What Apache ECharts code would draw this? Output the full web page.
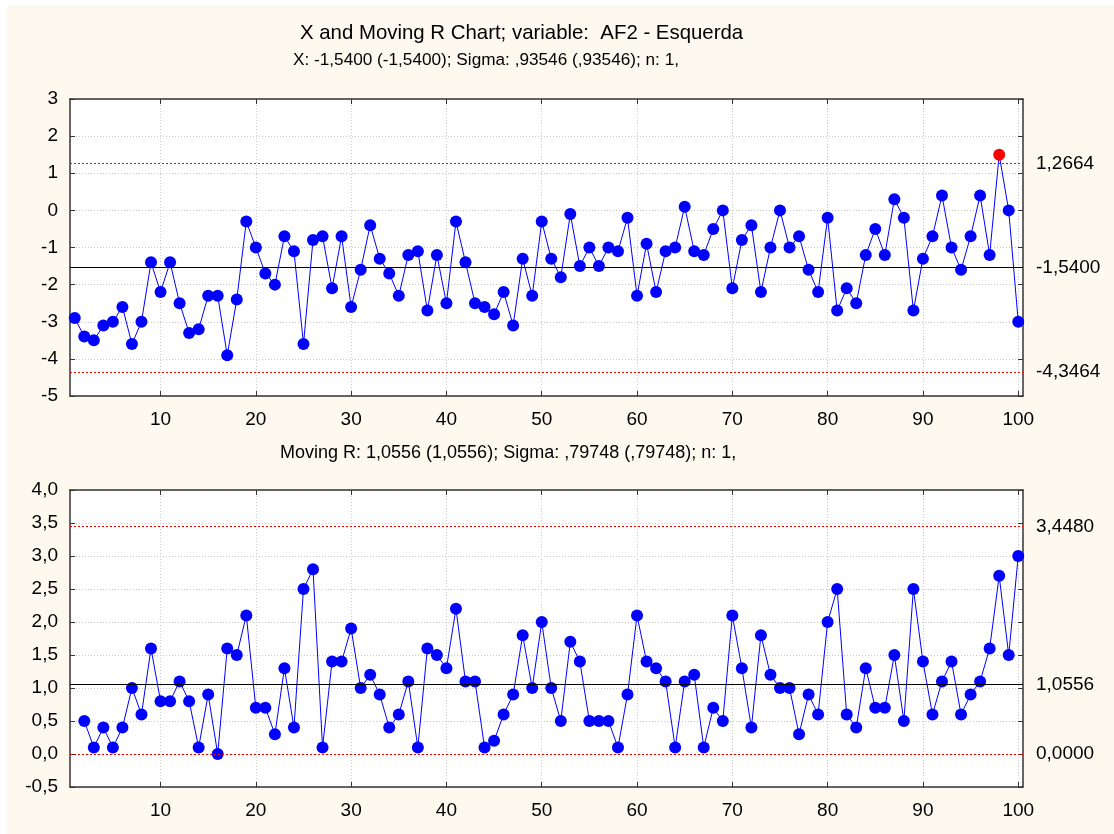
<!DOCTYPE html>
<html>
<head>
<meta charset="utf-8">
<script src="https://cdn.jsdelivr.net/npm/echarts@6/dist/echarts.min.js"></script>
<style>
  html, body { margin: 0; padding: 0; background: #fff; }
  #chart { width: 1114px; height: 834px; }
</style>
</head>
<body>
<div id="chart"></div>
<script>
// individual values, samples 1..100
const xValues = [
  -2.9, -3.4, -3.5, -3.1, -3.0, -2.6, -3.6, -3.0, -1.4, -2.2,
  -1.4, -2.5, -3.3, -3.2, -2.3, -2.3, -3.9, -2.4, -0.3, -1.0,
  -1.7, -2.0, -0.7, -1.1, -3.6, -0.8, -0.7, -2.1, -0.7, -2.6,
  -1.6, -0.4, -1.3, -1.7, -2.3, -1.2, -1.1, -2.7, -1.2, -2.5,
  -0.3, -1.4, -2.5, -2.6, -2.8, -2.2, -3.1, -1.3, -2.3, -0.3,
  -1.3, -1.8, -0.1, -1.5, -1.0, -1.5, -1.0, -1.1, -0.2, -2.3,
  -0.9, -2.2, -1.1, -1.0, 0.1, -1.1, -1.2, -0.5, 0.0, -2.1,
  -0.8, -0.4, -2.2, -1.0, 0.0, -1.0, -0.7, -1.6, -2.2, -0.2,
  -2.7, -2.1, -2.5, -1.2, -0.5, -1.2, 0.3, -0.2, -2.7, -1.3,
  -0.7, 0.4, -1.0, -1.6, -0.7, 0.4, -1.2, 1.5, 0.0, -3.0
]

// moving ranges, samples 2..100
const mrValues = [
  0.5, 0.1, 0.4, 0.1, 0.4, 1.0, 0.6, 1.6, 0.8,
  0.8, 1.1, 0.8, 0.1, 0.9, 0.0, 1.6, 1.5, 2.1, 0.7,
  0.7, 0.3, 1.3, 0.4, 2.5, 2.8, 0.1, 1.4, 1.4, 1.9,
  1.0, 1.2, 0.9, 0.4, 0.6, 1.1, 0.1, 1.6, 1.5, 1.3,
  2.2, 1.1, 1.1, 0.1, 0.2, 0.6, 0.9, 1.8, 1.0, 2.0,
  1.0, 0.5, 1.7, 1.4, 0.5, 0.5, 0.5, 0.1, 0.9, 2.1,
  1.4, 1.3, 1.1, 0.1, 1.1, 1.2, 0.1, 0.7, 0.5, 2.1,
  1.3, 0.4, 1.8, 1.2, 1.0, 1.0, 0.3, 0.9, 0.6, 2.0,
  2.5, 0.6, 0.4, 1.3, 0.7, 0.7, 1.5, 0.5, 2.5, 1.4,
  0.6, 1.1, 1.4, 0.6, 0.9, 1.1, 1.6, 2.7, 1.5, 3.0
]

const xSamples = xValues.map((_, i) => i + 1)
const mrSamples = mrValues.map((_, i) => i + 2)
const sampleTicks = [10, 20, 30, 40, 50, 60, 70, 80, 90, 100]
const outOfControl = [98]

const xLimits = [1.2664, -1.54, -4.3464]   // UCL, CL, LCL
const mrLimits = [3.448, 1.0556, 0]

const FONT = '"Liberation Sans", Arial, sans-serif'
const BLUE = '#0000ff'
const comma = (v, d) => v.toFixed(d).replace('.', ',')

function limitLines(limits) {
  return {
    silent: true,
    symbol: ['none', 'none'],
    animation: false,
    label: { show: false },
    emphasis: { disabled: true },
    data: [
      { yAxis: limits[0], lineStyle: { color: '#ff0000', type: [2, 2], width: 1 } },
      { yAxis: limits[1], lineStyle: { color: '#000', type: 'solid', width: 1 } },
      { yAxis: limits[2], lineStyle: { color: '#ff0000', type: [2, 2], width: 1 } },
    ],
  }
}

function sampleAxis(gridIndex) {
  return {
    type: 'value',
    gridIndex,
    min: 0.5,
    max: 100.5,
    axisLine: { onZero: false, lineStyle: { color: '#333', width: 1.5 } },
    axisTick: { inside: true, length: 5, customValues: sampleTicks, lineStyle: { color: '#333' } },
    axisLabel: { customValues: sampleTicks, color: '#000', fontSize: 19, fontFamily: FONT, margin: 14 },
    splitLine: { show: true, lineStyle: { color: '#c8c8c8', type: [1, 2] } },
  }
}

function topAxis(gridIndex) {
  return {
    type: 'value',
    gridIndex,
    position: 'top',
    min: 0.5,
    max: 100.5,
    axisLine: { onZero: false, lineStyle: { color: '#333', width: 1.5 } },
    axisTick: { inside: true, length: 5, customValues: sampleTicks, lineStyle: { color: '#333' } },
    axisLabel: { show: false },
    splitLine: { show: false },
  }
}

function leftAxis(gridIndex, min, max, interval, digits) {
  return {
    type: 'value',
    gridIndex,
    min,
    max,
    interval,
    axisLine: { show: true, onZero: false, lineStyle: { color: '#333', width: 1.5 } },
    axisTick: { show: true, inside: true, length: 5, lineStyle: { color: '#333' } },
    axisLabel: { color: '#000', fontSize: 19, fontFamily: FONT, margin: 12, formatter: (v) => comma(v, digits) },
    splitLine: { show: true, lineStyle: { color: '#c8c8c8', type: [1, 2] } },
  }
}

function rightAxis(gridIndex, min, max, interval, limits) {
  return {
    type: 'value',
    gridIndex,
    position: 'right',
    min,
    max,
    interval,
    axisLine: { show: true, onZero: false, lineStyle: { color: '#333', width: 1.5 } },
    axisTick: { show: true, inside: true, length: 5, lineStyle: { color: '#333' } },
    axisLabel: { customValues: limits, color: '#000', fontSize: 19, fontFamily: FONT, margin: 13, formatter: (v) => comma(v, 4) },
    splitLine: { show: false },
  }
}

const chart = echarts.init(document.getElementById('chart'))

chart.setOption({
  animation: false,
  backgroundColor: '#fff',
  graphic: [{
    type: 'rect', left: 7, top: 5, z: -100, silent: true,
    shape: { width: 1107, height: 829 },
    style: { fill: '#fdf9ef' },
  }],
  title: [
    {
      text: 'X and Moving R Chart; variable:  AF2 - Esquerda',
      left: 300, top: 23, padding: 0,
      textStyle: { fontSize: 20.4, fontWeight: 'normal', color: '#000', fontFamily: FONT },
    },
    {
      text: 'X: -1,5400 (-1,5400); Sigma: ,93546 (,93546); n: 1,',
      left: 293, top: 52, padding: 0,
      textStyle: { fontSize: 17.2, fontWeight: 'normal', color: '#000', fontFamily: FONT },
    },
    {
      text: 'Moving R: 1,0556 (1,0556); Sigma: ,79748 (,79748); n: 1,',
      left: 280, top: 444, padding: 0,
      textStyle: { fontSize: 18, fontWeight: 'normal', color: '#000', fontFamily: FONT },
    },
  ],
  grid: [
    { left: 70, top: 99, width: 953, height: 297, show: true, backgroundColor: '#fff', borderWidth: 0 },
    { left: 70, top: 490, width: 953, height: 297, show: true, backgroundColor: '#fff', borderWidth: 0 },
  ],
  xAxis: [sampleAxis(0), topAxis(0), sampleAxis(1), topAxis(1)],
  yAxis: [
    leftAxis(0, -5, 3, 1, 0),
    rightAxis(0, -5, 3, 1, xLimits),
    leftAxis(1, -0.5, 4, 0.5, 1),
    rightAxis(1, -0.5, 4, 0.5, mrLimits),
  ],
  series: [
    {
      name: 'X',
      type: 'line',
      xAxisIndex: 0,
      yAxisIndex: 0,
      data: xValues.map((v, i) => {
        const s = xSamples[i]
        return outOfControl.includes(s)
          ? { value: [s, v], itemStyle: { color: '#ff0000' } }
          : [s, v]
      }),
      symbol: 'circle',
      symbolSize: 12,
      itemStyle: { color: BLUE },
      lineStyle: { color: BLUE, width: 1 },
      markLine: limitLines(xLimits),
      z: 3,
    },
    {
      name: 'Moving R',
      type: 'line',
      xAxisIndex: 2,
      yAxisIndex: 2,
      data: mrValues.map((v, i) => [mrSamples[i], v]),
      symbol: 'circle',
      symbolSize: 12,
      itemStyle: { color: BLUE },
      lineStyle: { color: BLUE, width: 1 },
      markLine: limitLines(mrLimits),
      z: 3,
    },
  ],
})
</script>
</body>
</html>
